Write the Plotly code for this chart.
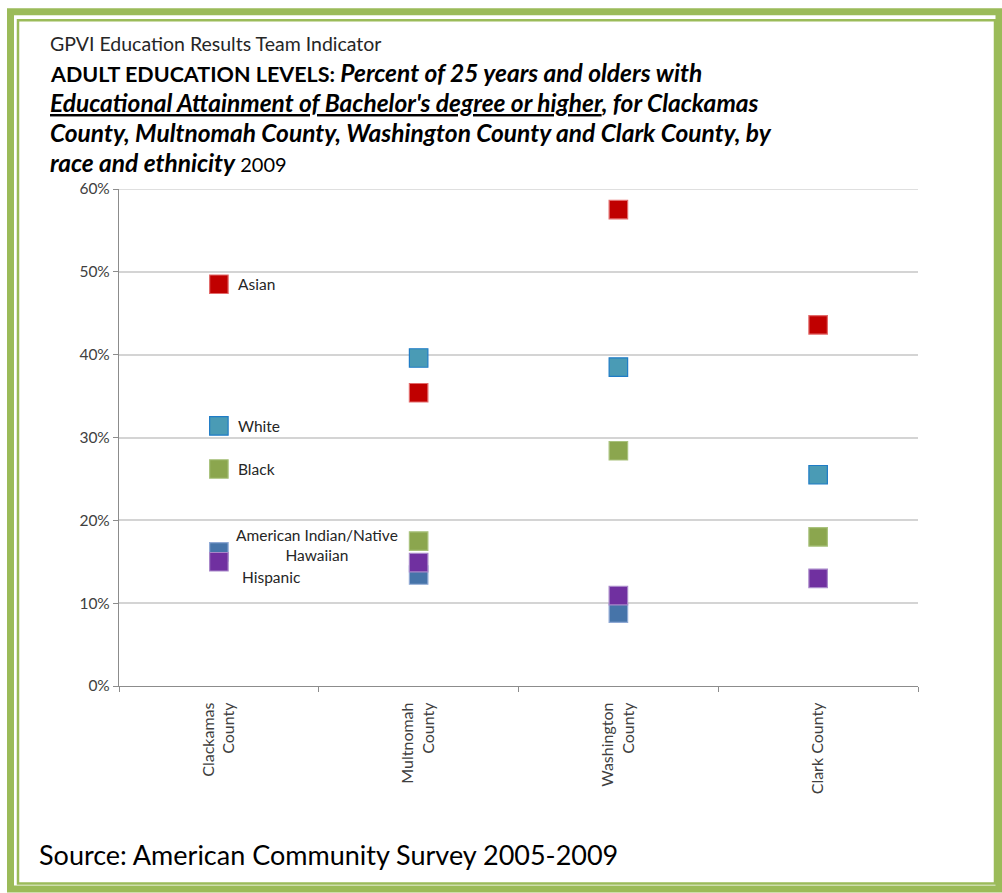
import plotly.graph_objects as go

# Data
counties = ["Clackamas<br>County", "Multnomah<br>County", "Washington<br>County", "Clark County"]
asian = [0.485, 0.354, 0.575, 0.436]
white = [0.314, 0.396, 0.385, 0.255]
black = [0.262, 0.175, 0.284, 0.180]
am_indian = [0.162, 0.134, 0.088, None]
hispanic = [0.150, 0.149, 0.109, 0.130]
y_max = 0.6

series = [
    ("Asian", asian, "#C00000", "#E26B6B"),
    ("White", white, "#4A9BB5", "#1F7CC6"),
    ("Black", black, "#8BA64E", "#A9C27D"),
    ("American Indian/Native Hawaiian", am_indian, "#4674A9", "#8FA9D4"),
    ("Hispanic", hispanic, "#7030A0", "#A887C9"),
]

FONT = "Lato"

# plot area in pixels
L, R, T, B = 119, 918, 188.5, 686.5
W, H = 1002, 893


def px(x):
    return (x - L) / (R - L)


def py(y):
    return (B - y) / (B - T)


fig = go.Figure()
for name, vals, fill, edge in series:
    fig.add_trace(go.Scatter(
        x=counties, y=vals, name=name, mode="markers",
        marker=dict(symbol="square", size=18.5, color=fill,
                    line=dict(color=edge, width=1.2)),
        hoverinfo="x+y+name",
    ))

annotations = []
# series labels next to the Clackamas points
lab_font = dict(family=FONT, size=15.5, color="#262626")
for name, vals in [("Asian", asian), ("White", white), ("Black", black)]:
    annotations.append(dict(x=counties[0], y=vals[0], xref="x", yref="y", text=name,
                            showarrow=False, xanchor="left", xshift=17,
                            font=lab_font))
annotations.append(dict(x=counties[0], y=am_indian[0], xref="x", yref="y",
                        text="American Indian/Native<br>Hawaiian", showarrow=False,
                        xanchor="center", xshift=98, yshift=7, align="center",
                        font=lab_font))
annotations.append(dict(x=counties[0], y=hispanic[0], xref="x", yref="y",
                        text="Hispanic", showarrow=False, xanchor="left", xshift=21,
                        yshift=-15, font=lab_font))

# titles
BI = '<span style="font-size:24.5px"><b><i>{}</i></b></span>'
title_lines = [
    (43, "GPVI Education Results Team Indicator", 19.5, "#262626"),
    (72, '<span style="font-size:21.5px"><b>ADULT EDUCATION LEVELS: </b></span>'
         + BI.format("Percent of 25 years and olders with"), 21.5, "#000000"),
    (102, BI.format("<u>Educational Attainment of Bachelor's degree or higher</u>, for Clackamas"),
     24.5, "#000000"),
    (132, BI.format("County, Multnomah County, Washington County and Clark County, by"),
     24.5, "#000000"),
    (162, BI.format("race and ethnicity") + " 2009", 20, "#000000"),
]
for y, text, size, color in title_lines:
    annotations.append(dict(x=px(48), y=py(y), xref="paper", yref="paper", text=text,
                            showarrow=False, xanchor="left", yanchor="middle",
                            font=dict(family=FONT, size=size, color=color)))
annotations.append(dict(x=px(37), y=py(855), xref="paper", yref="paper",
                        text="Source: American Community Survey 2005-2009",
                        showarrow=False, xanchor="left", yanchor="middle",
                        font=dict(family=FONT, size=27, color="#000000")))

# green double frame
green = "#9BBB59"
shapes = [
    dict(type="rect", xref="paper", yref="paper", x0=px(10.5), x1=px(999), y0=py(11), y1=py(890),
         line=dict(color=green, width=7), layer="below"),
    dict(type="rect", xref="paper", yref="paper", x0=px(18), x1=px(995), y0=py(19.5), y1=py(884.5),
         line=dict(color=green, width=2.5), layer="below"),
    # plotly drops the gridline sitting on the top edge, so draw the 60% one
    dict(type="line", xref="paper", yref="y", x0=0, x1=1, y0=y_max, y1=y_max,
         line=dict(color="#D4D4D4", width=1.5), layer="below"),
]

fig.update_layout(
    width=W, height=H,
    margin=dict(l=L, r=W - R, t=T, b=H - B, pad=0),
    paper_bgcolor="white", plot_bgcolor="white",
    showlegend=False,
    font=dict(family=FONT, size=15.5, color="#404040"),
    annotations=annotations,
    shapes=shapes,
    xaxis=dict(type="category", range=[-0.5, 3.5], showline=True, linecolor="#8C8C8C",
               linewidth=1.2, ticks="outside", tickson="boundaries", ticklen=5,
               tickcolor="#8C8C8C", tickangle=-90, showgrid=False, ticklabelstandoff=9,
               tickfont=dict(family=FONT, size=16, color="#404040")),
    yaxis=dict(range=[0, y_max], dtick=0.1, tickformat=".0%", showline=True,
               linecolor="#8C8C8C", linewidth=1.2, ticks="outside", ticklen=5,
               tickcolor="#8C8C8C", gridcolor="#D4D4D4", gridwidth=1.5,
               zeroline=False, tickfont=dict(family=FONT, size=15.5, color="#404040")),
)

# drop the default 8px page margin so the figure sits at the window's corner
fig.write_html("out.html", config={"displayModeBar": False},
               post_script="document.body.style.margin='0px';")
